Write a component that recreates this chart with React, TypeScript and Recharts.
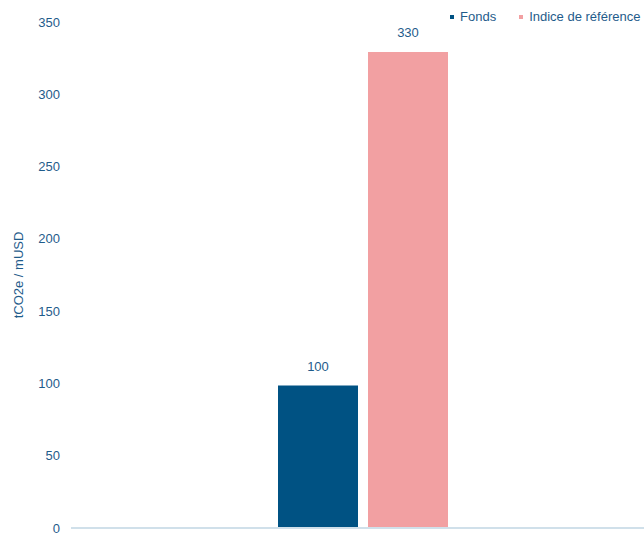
import { BarChart, Bar, XAxis, YAxis, Legend, LabelList, Label } from "recharts";

const categories = ["Intensité carbone"];
const fondsValues = [98.5];
const indiceValues = [329.3];
// libellés affichés au-dessus des barres (arrondis dans le rapport)
const fondsLabels = ["100"];
const indiceLabels = ["330"];
const yTicks = [0, 50, 100, 150, 200, 250, 300, 350];

const series = [
  { key: "fonds", name: "Fonds", color: "#005283", labels: fondsLabels },
  { key: "indice", name: "Indice de référence", color: "#F2A0A2", labels: indiceLabels },
];

const data = categories.map((c, i) => ({
  name: c,
  fonds: fondsValues[i],
  indice: indiceValues[i],
}));

const TEXT = "#1F5C8B";
const FONT = "'Liberation Sans', Arial, sans-serif";

const LegendContent = () => (
  <div style={{ display: "flex", alignItems: "center", fontFamily: FONT, fontSize: 13, color: TEXT, whiteSpace: "nowrap" }}>
    {series.map((s, i) => (
      <div key={s.key} style={{ display: "flex", alignItems: "center", marginLeft: i === 0 ? 0 : 23 }}>
        <span style={{ width: 4, height: 4, background: s.color, display: "inline-block", marginRight: 6 }} />
        <span>{s.name}</span>
      </div>
    ))}
  </div>
);

const makeLabel = (labels: string[]) => (props: any) => {
  const { x, y, width, index } = props;
  return (
    <text
      x={x + width / 2}
      y={y - 15}
      textAnchor="middle"
      fill={TEXT}
      fontSize={13}
      fontFamily={FONT}
    >
      {labels[index]}
    </text>
  );
};

export default function App() {
  return (
    <div style={{ position: "absolute", left: 0, top: 0, width: 644, height: 533, overflow: "hidden" }}>
      <BarChart
        width={655}
        height={545}
        data={data}
        margin={{ top: 22, right: 0, bottom: 12, left: 0 }}
        barSize={80}
        barGap={10}
        style={{ fontFamily: FONT }}
      >
        <XAxis
          dataKey="name"
          tick={false}
          tickLine={false}
          height={5}
          axisLine={{ stroke: "#D0E0EA", strokeWidth: 2 }}
        />
        <YAxis
          domain={[0, 350]}
          ticks={yTicks}
          width={71}
          axisLine={false}
          tickLine={false}
          tickSize={0}
          tickMargin={11}
          tick={{ fill: TEXT, fontSize: 13, fontFamily: FONT }}
          interval={0}
        >
          <Label
            value="tCO2e / mUSD"
            angle={-90}
            position="center"
            dx={-17}
            fill={TEXT}
            fontSize={13}
            fontFamily={FONT}
          />
        </YAxis>
        <Legend
          layout="vertical"
          verticalAlign="middle"
          align="center"
          content={<LegendContent />}
          wrapperStyle={{ top: 9, left: 450, right: "auto", width: 220 }}
        />
        {series.map((s) => (
          <Bar key={s.key} dataKey={s.key} name={s.name} fill={s.color} isAnimationActive={false}>
            <LabelList dataKey={s.key} content={makeLabel(s.labels)} />
          </Bar>
        ))}
      </BarChart>
    </div>
  );
}
